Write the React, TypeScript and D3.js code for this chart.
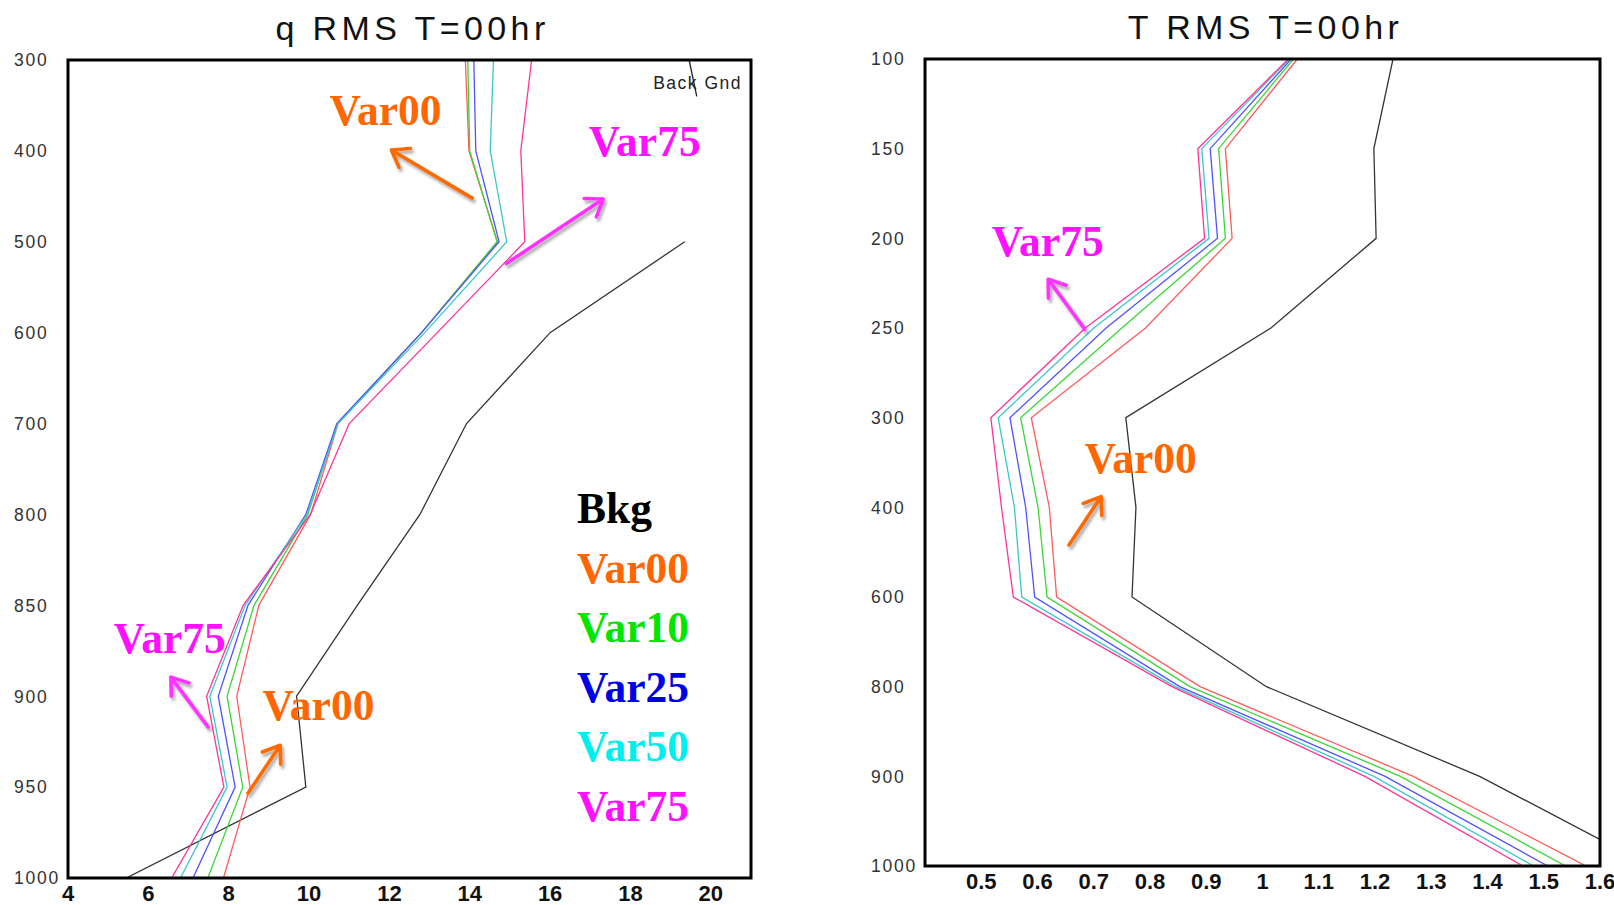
import React from 'react';
import * as d3 from 'd3';

// q RMS panel
const qLevels = [300, 400, 500, 600, 700, 800, 850, 900, 950, 1000];
const qTicks = [4, 6, 8, 10, 12, 14, 16, 18, 20];
const qBkg = [null, null, 19.35, 16.0, 13.92, 12.76, 11.2, 9.69, 9.92, 5.45];
const qVar00 = [13.89, 13.98, 14.69, 12.8, 10.72, 10.04, 8.75, 8.2, 8.53, 7.87];
const qVar10 = [13.95, 14.0, 14.68, 12.8, 10.7, 9.97, 8.63, 7.96, 8.35, 7.48];
const qVar25 = [14.1, 14.15, 14.73, 12.8, 10.69, 9.92, 8.48, 7.74, 8.16, 7.11];
const qVar50 = [14.59, 14.51, 14.92, 12.88, 10.72, 9.95, 8.41, 7.53, 7.96, 6.8];
const qVar75 = [15.54, 15.27, 15.37, 13.19, 11.0, 10.03, 8.36, 7.45, 7.88, 6.58];
const qStubX = [19.46, 19.65];
const qStubP = [300, 340];

// T RMS panel
const tLevels = [100, 150, 200, 250, 300, 400, 600, 800, 900, 1000];
const tTicks = [0.5, 0.6, 0.7, 0.8, 0.9, 1, 1.1, 1.2, 1.3, 1.4, 1.5, 1.6];
const tBkg = [1.232, 1.198, 1.202, 1.015, 0.757, 0.775, 0.768, 1.007, 1.386, 1.69];
const tVar00 = [1.062, 0.934, 0.946, 0.792, 0.589, 0.621, 0.634, 0.889, 1.268, 1.575];
const tVar10 = [1.055, 0.922, 0.934, 0.75, 0.57, 0.601, 0.617, 0.871, 1.245, 1.539];
const tVar25 = [1.051, 0.907, 0.92, 0.722, 0.551, 0.579, 0.595, 0.853, 1.218, 1.507];
const tVar50 = [1.048, 0.892, 0.905, 0.7, 0.53, 0.559, 0.572, 0.845, 1.198, 1.482];
const tVar75 = [1.046, 0.885, 0.897, 0.685, 0.517, 0.536, 0.557, 0.839, 1.182, 1.463];

const names = ['Bkg', 'Var00', 'Var10', 'Var25', 'Var50', 'Var75'];
const lineColors = ['#333333', '#ff5c5c', '#3ad63a', '#5252ff', '#3cc8c8', '#ff3399'];
const textColors = ['#000000', '#ff6600', '#00e600', '#0000e6', '#00eeee', '#ff11ff'];
const ORANGE = '#ff6a00';
const MAGENTA = '#ff33ff';

const qNotes = [
  { text: 'Var00', color: textColors[1], x: 10.51, p: 371.5 },
  { text: 'Var75', color: textColors[5], x: 16.96, p: 406 },
  { text: 'Var75', color: textColors[5], x: 5.14, p: 876 },
  { text: 'Var00', color: textColors[1], x: 8.84, p: 913 },
];
const qArrows = [
  { color: ORANGE, from: [14.06, 452], to: [12.05, 399] },
  { color: MAGENTA, from: [14.91, 524], to: [17.32, 453] },
  { color: MAGENTA, from: [7.49, 917], to: [6.56, 889.5] },
  { color: ORANGE, from: [8.48, 953.4], to: [9.28, 927] },
];
const tNotes = [
  { text: 'Var75', color: textColors[5], x: 0.5186, p: 209.8 },
  { text: 'Var00', color: textColors[1], x: 0.684, p: 361.4 },
];
const tArrows = [
  { color: MAGENTA, from: [0.684, 250.7], to: [0.619, 222.8] },
  { color: ORANGE, from: [0.656, 484], to: [0.713, 388] },
];

const SANS = '"Liberation Sans", Arial, sans-serif';
const NARROW = '"Liberation Sans Narrow", "Liberation Sans", Arial, sans-serif';
const SERIF = '"Liberation Serif", "Times New Roman", serif';

const Arrow = ({ x1, y1, x2, y2, color }) => {
  const a = Math.atan2(y1 - y2, x1 - x2);
  const len = 19, spread = 0.62;
  const ax = x2 + len * Math.cos(a + spread), ay = y2 + len * Math.sin(a + spread);
  const bx = x2 + len * Math.cos(a - spread), by = y2 + len * Math.sin(a - spread);
  const d = `M${x1},${y1}L${x2},${y2}M${ax},${ay}L${x2},${y2}L${bx},${by}`;
  return (
    <path d={d} stroke={color} strokeWidth={3.6} fill="none"
      strokeLinecap="round" strokeLinejoin="round" filter="url(#shadow)" />
  );
};

const Panel = ({ id, box, title, levels, ticks, domain, series, notes, arrows, legend, stub }) => {
  const { x0, x1, y0, y1 } = box;
  const x = d3.scaleLinear().domain(domain).range([x0, x1]);
  const idx = d3.scaleLinear().domain(levels).range(d3.range(levels.length));
  const yi = d3.scaleLinear().domain([0, levels.length - 1]).range([y0, y1]);
  const y = p => yi(idx(p));
  const line = d3.line()
    .defined(d => d[0] != null)
    .x(d => x(d[0]))
    .y(d => y(d[1]));

  return (
    <g>
      <clipPath id={id}>
        <rect x={x0} y={y0} width={x1 - x0} height={y1 - y0} />
      </clipPath>
      <text x={(x0 + x1) / 2 + 3} y={y0 - 20} textAnchor="middle" fontFamily={SANS}
        fontSize={34} letterSpacing={4.4} fill="#111">{title}</text>
      <g clipPath={`url(#${id})`}>
        {series.map((s, k) => (
          <path key={k} d={line(s.map((v, i) => [v, levels[i]]))} fill="none"
            stroke={lineColors[k]} strokeWidth={1.3} />
        ))}
      </g>
      {stub && (
        <path d={line(stub.xs.map((v, i) => [v, stub.ps[i]]))} fill="none" stroke="#222" strokeWidth={1.3} />
      )}
      {stub && (
        <text x={x1 - 9} y={y0 + 29} textAnchor="end" fontFamily={SANS} fontSize={17.5}
          letterSpacing={1.5} fill="#222">Back Gnd</text>
      )}
      <rect x={x0} y={y0} width={x1 - x0} height={y1 - y0} fill="none" stroke="#000" strokeWidth={3} />
      {levels.map(p => (
        <text key={p} x={x0 - 54} y={y(p)} dy="0.36em" fontFamily={SANS} fontSize={17.5}
          letterSpacing={1.8} fill="#333">{p}</text>
      ))}
      {ticks.map(t => (
        <text key={t} x={x(t)} y={y1 + 23} textAnchor="middle" fontFamily={NARROW}
          fontWeight="bold" fontSize={22} fill="#111">{String(t)}</text>
      ))}
      {arrows.map((a, k) => (
        <Arrow key={k} x1={x(a.from[0])} y1={y(a.from[1])} x2={x(a.to[0])} y2={y(a.to[1])} color={a.color} />
      ))}
      {notes.map((n, k) => (
        <text key={k} x={x(n.x)} y={y(n.p)} fontFamily={SERIF} fontWeight="bold" fontSize={43.5}
          fill={n.color}>{n.text}</text>
      ))}
      {legend && names.map((n, k) => (
        <text key={n} x={x1 - 174} y={y0 + 463 + k * 59.5} fontFamily={SERIF} fontWeight="bold"
          fontSize={43.5} fill={textColors[k]}>{n}</text>
      ))}
    </g>
  );
};

export default function App() {
  return (
    <svg width={1614} height={905} style={{ position: 'absolute', left: 0, top: 0, display: 'block', background: '#fff' }}>
      <defs>
        <filter id="shadow" x="-30%" y="-30%" width="160%" height="160%">
          <feDropShadow dx={2} dy={3} stdDeviation={1.8} floodColor="#000" floodOpacity={0.35} />
        </filter>
      </defs>
      <rect width={1614} height={905} fill="#fff" />
      <Panel id="clipQ" box={{ x0: 68, x1: 751, y0: 60, y1: 878 }} title="q  RMS  T=00hr"
        levels={qLevels} ticks={qTicks} domain={[4, 21]}
        series={[qBkg, qVar00, qVar10, qVar25, qVar50, qVar75]}
        notes={qNotes} arrows={qArrows} legend={true} stub={{ xs: qStubX, ps: qStubP }} />
      <Panel id="clipT" box={{ x0: 925, x1: 1600, y0: 59, y1: 866 }} title="T  RMS  T=00hr"
        levels={tLevels} ticks={tTicks} domain={[0.4, 1.6]}
        series={[tBkg, tVar00, tVar10, tVar25, tVar50, tVar75]}
        notes={tNotes} arrows={tArrows} legend={false} stub={null} />
    </svg>
  );
}
